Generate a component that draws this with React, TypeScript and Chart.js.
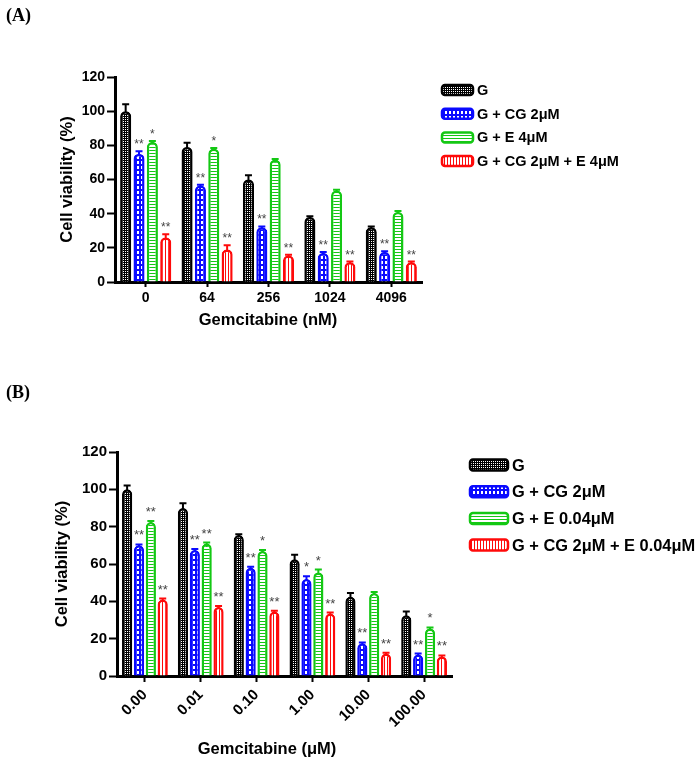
import React, { useEffect, useRef } from "react";
import { Chart, registerables } from "chart.js";
Chart.register(...registerables);

const SANS = "'Liberation Sans', Arial, Helvetica, sans-serif";
const SERIF = "'Liberation Serif', 'Times New Roman', serif";

// ---------------- Panel A data ----------------
const categoriesA = ["0", "64", "256", "1024", "4096"];
const seriesNamesA = ["G", "G + CG 2μM", "G + E 4μM", "G + CG 2μM + E 4μM"];
const gValuesA = [100, 79, 60, 38, 32];
const cgValuesA = [75, 56.5, 32, 17, 17.5];
const eValuesA = [82, 78, 71.5, 53.5, 41];
const cgeValuesA = [26, 19, 15.5, 11.5, 11.5];
const gErrA = [4, 2.5, 2.5, 0.5, 0.5];
const cgErrA = [1.5, 0.5, 0.5, 0.5, 0.5];
const eErrA = [0.5, 0.5, 0.5, 0.5, 0.5];
const cgeErrA = [2, 2.5, 0.5, 0.5, 0.5];
const gStarsA = ["", "", "", "", ""];
const cgStarsA = ["**", "**", "**", "**", "**"];
const eStarsA = ["*", "*", "", "", ""];
const cgeStarsA = ["**", "**", "**", "**", "**"];
const xTitleA = "Gemcitabine (nM)";

// ---------------- Panel B data ----------------
const categoriesB = ["0.00", "0.01", "0.10", "1.00", "10.00", "100.00"];
const seriesNamesB = ["G", "G + CG 2μM", "G + E 0.04μM", "G + CG 2μM + E 0.04μM"];
const gValuesB = [100, 90, 75.5, 62.5, 42.5, 32.5];
const cgValuesB = [70, 67.5, 58, 52, 17.5, 11.5];
const eValuesB = [82.5, 71, 67, 55.5, 44.5, 25.5];
const cgeValuesB = [41, 37, 34.5, 33.5, 12, 10.5];
const gErrB = [2, 2.5, 0.5, 2.5, 2, 2];
const cgErrB = [0.5, 0.5, 0.5, 1.5, 0.5, 0.5];
const eErrB = [0.5, 0.5, 0.5, 1.5, 0.5, 0.5];
const cgeErrB = [0.5, 0.5, 0.5, 0.5, 0.5, 0.5];
const gStarsB = ["", "", "", "", "", ""];
const cgStarsB = ["**", "**", "**", "*", "**", "**"];
const eStarsB = ["**", "**", "*", "*", "", "*"];
const cgeStarsB = ["**", "**", "**", "**", "**", "**"];
const xTitleB = "Gemcitabine (μM)";

const yTitle = "Cell viability (%)";
const yMax = 120;
const yStep = 20;

// ---------------- styles ----------------
const COLORS = ["#000000", "#0a0aff", "#14c814", "#ff0a0a"];

function makePattern(idx: number): CanvasPattern | string {
  const c = document.createElement("canvas");
  const g = c.getContext("2d");
  if (!g) return COLORS[idx];
  const col = COLORS[idx];
  if (idx === 0) {
    c.width = 4; c.height = 4;
    g.fillStyle = col; g.fillRect(0, 0, 4, 4);
    g.fillStyle = "#ffffff";
    g.fillRect(1, 1, 1, 1); g.fillRect(3, 3, 1, 1); g.fillRect(1, 3, 1, 1); g.fillRect(3, 1, 1, 1);
  } else if (idx === 1) {
    c.width = 4; c.height = 5;
    g.fillStyle = col; g.fillRect(0, 0, 4, 5);
    g.fillStyle = "#ffffff"; g.fillRect(1, 1, 2, 3);
  } else if (idx === 2) {
    c.width = 1; c.height = 3;
    g.fillStyle = "#ffffff"; g.fillRect(0, 0, 1, 3);
    g.fillStyle = col; g.fillRect(0, 0, 1, 1);
  } else {
    c.width = 3; c.height = 1;
    g.fillStyle = "#ffffff"; g.fillRect(0, 0, 3, 1);
    g.fillStyle = col; g.fillRect(0, 0, 1, 1);
  }
  const p = g.createPattern(c, "repeat");
  return p || col;
}

type Geo = {
  height: number;
  padTop: number;
  padRight: number;
  yWidth: number;
  xHeight: number;
  tickSize: number;
  rotation: number;
  xTickLen: number;
  xTickPad: number;
  catPct: number;
  barPct: number;
  titleSize: number;
  xTitleX: number;
  xTitleY: number;
  yTitleX: number;
  legendDX: number;
  legendDY: number;
  legendStep: number;
  legendBoxW: number;
  legendBoxH: number;
  legendFont: number;
  starSize: number;
  starGap: number;
  capHalf: number;
};

type PanelProps = {
  categories: string[];
  names: string[];
  values: number[][];
  errors: number[][];
  stars: string[][];
  xTitle: string;
  geo: Geo;
};

function Panel({ categories, names, values, errors, stars, xTitle, geo }: PanelProps) {
  const ref = useRef<HTMLCanvasElement | null>(null);
  useEffect(() => {
    if (!ref.current) return;
    const patterns = COLORS.map((_, i) => makePattern(i));

    const errStars = {
      id: "errStars",
      afterDatasetsDraw(chart: any) {
        const ctx = chart.ctx;
        const ys = chart.scales.y;
        values.forEach((vals, i) => {
          const meta = chart.getDatasetMeta(i);
          meta.data.forEach((el: any, j: number) => {
            const top = ys.getPixelForValue(vals[j] + errors[i][j]);
            ctx.save();
            ctx.strokeStyle = COLORS[i];
            ctx.lineWidth = 2;
            ctx.beginPath();
            ctx.moveTo(el.x, el.y + 1);
            ctx.lineTo(el.x, top);
            ctx.moveTo(el.x - geo.capHalf, top);
            ctx.lineTo(el.x + geo.capHalf, top);
            ctx.stroke();
            const s = stars[i][j];
            if (s) {
              ctx.fillStyle = "#444444";
              ctx.font = `${geo.starSize}px ${SANS}`;
              ctx.textAlign = "center";
              ctx.textBaseline = "alphabetic";
              ctx.fillText(s, el.x, top - geo.starGap);
            }
            ctx.restore();
          });
        });
      },
    };

    const decor = {
      id: "decor",
      afterDraw(chart: any) {
        const ctx = chart.ctx;
        const area = chart.chartArea;
        ctx.save();
        // legend
        names.forEach((n, i) => {
          const cy = area.top + geo.legendDY + i * geo.legendStep;
          const bx = area.right + geo.legendDX;
          const by = cy - geo.legendBoxH / 2;
          ctx.beginPath();
          ctx.roundRect(bx, by, geo.legendBoxW, geo.legendBoxH, 3);
          ctx.fillStyle = patterns[i];
          ctx.fill();
          ctx.lineWidth = 2.5;
          ctx.strokeStyle = COLORS[i];
          ctx.stroke();
          ctx.fillStyle = "#000";
          ctx.font = `bold ${geo.legendFont}px ${SANS}`;
          ctx.textAlign = "left";
          ctx.textBaseline = "middle";
          ctx.fillText(n, bx + geo.legendBoxW + 4, cy + 1);
        });
        // axis titles
        ctx.fillStyle = "#000";
        ctx.font = `bold ${geo.titleSize}px ${SANS}`;
        ctx.textAlign = "center";
        ctx.textBaseline = "middle";
        ctx.fillText(xTitle, geo.xTitleX, geo.xTitleY);
        ctx.translate(geo.yTitleX, (area.top + area.bottom) / 2);
        ctx.rotate(-Math.PI / 2);
        ctx.fillText(yTitle, 0, 0);
        ctx.restore();
      },
    };

    const tickFont = { family: SANS, size: geo.tickSize, weight: "bold" as const };
    const chart = new Chart(ref.current, {
      type: "bar",
      data: {
        labels: categories,
        datasets: values.map((v, i) => ({
          label: names[i],
          data: v,
          backgroundColor: patterns[i] as any,
          borderColor: COLORS[i],
          borderWidth: 2.5,
          borderRadius: 5,
          borderSkipped: "start" as const,
          categoryPercentage: geo.catPct,
          barPercentage: geo.barPct,
        })),
      },
      options: {
        animation: false,
        responsive: false,
        layout: { padding: { top: geo.padTop, right: geo.padRight, left: 0, bottom: 0 } },
        plugins: { legend: { display: false }, tooltip: { enabled: false } },
        scales: {
          x: {
            grid: {
              display: true,
              drawOnChartArea: false,
              drawTicks: true,
              tickLength: geo.xTickLen,
              tickWidth: 2,
              tickColor: "#000",
              offset: false,
            },
            border: { display: true, color: "#000", width: 3 },
            ticks: {
              color: "#000",
              font: tickFont,
              padding: geo.xTickPad,
              minRotation: geo.rotation,
              maxRotation: geo.rotation,
              autoSkip: false,
            },
            afterFit: (s: any) => {
              s.height = geo.xHeight;
            },
          },
          y: {
            min: 0,
            max: yMax,
            grid: {
              display: true,
              drawOnChartArea: false,
              drawTicks: true,
              tickLength: 8,
              tickWidth: 2,
              tickColor: "#000",
            },
            border: { display: true, color: "#000", width: 3 },
            ticks: { stepSize: yStep, color: "#000", font: tickFont, padding: 2 },
            afterFit: (s: any) => {
              s.width = geo.yWidth;
            },
          },
        },
      },
      plugins: [errStars, decor],
    });
    return () => chart.destroy();
  }, []);
  return <canvas ref={ref} width={700} height={geo.height} style={{ display: "block" }} />;
}

const geoA: Geo = {
  height: 340,
  padTop: 77,
  padRight: 278,
  yWidth: 115,
  xHeight: 58,
  tickSize: 14,
  rotation: 0,
  xTickLen: 5,
  xTickPad: 3,
  catPct: 0.87,
  barPct: 0.83,
  titleSize: 16.5,
  xTitleX: 268,
  xTitleY: 320,
  yTitleX: 67,
  legendDX: 20,
  legendDY: 13,
  legendStep: 23.7,
  legendBoxW: 31,
  legendBoxH: 10,
  legendFont: 14.5,
  starSize: 12,
  starGap: 3,
  capHalf: 3.5,
};

const geoB: Geo = {
  height: 402,
  padTop: 92,
  padRight: 248,
  yWidth: 117,
  xHeight: 86,
  tickSize: 15,
  rotation: 45,
  xTickLen: 6,
  xTickPad: 4,
  catPct: 0.85,
  barPct: 0.86,
  titleSize: 16.5,
  xTitleX: 267,
  xTitleY: 389,
  yTitleX: 62,
  legendDX: 18,
  legendDY: 13,
  legendStep: 26.7,
  legendBoxW: 38,
  legendBoxH: 11,
  legendFont: 16.4,
  starSize: 13,
  starGap: 5,
  capHalf: 3.5,
};

export default function App() {
  return (
    <div style={{ position: "absolute", left: 0, top: 0, width: 700, height: 762, background: "#fff", overflow: "hidden" }}>
      <div style={{ position: "absolute", left: 0, top: 0 }}>
        <Panel
          categories={categoriesA}
          names={seriesNamesA}
          values={[gValuesA, cgValuesA, eValuesA, cgeValuesA]}
          errors={[gErrA, cgErrA, eErrA, cgeErrA]}
          stars={[gStarsA, cgStarsA, eStarsA, cgeStarsA]}
          xTitle={xTitleA}
          geo={geoA}
        />
      </div>
      <div style={{ position: "absolute", left: 0, top: 360 }}>
        <Panel
          categories={categoriesB}
          names={seriesNamesB}
          values={[gValuesB, cgValuesB, eValuesB, cgeValuesB]}
          errors={[gErrB, cgErrB, eErrB, cgeErrB]}
          stars={[gStarsB, cgStarsB, eStarsB, cgeStarsB]}
          xTitle={xTitleB}
          geo={geoB}
        />
      </div>
      <div style={{ position: "absolute", left: 6, top: 5, font: `bold 18px ${SERIF}`, lineHeight: "20px" }}>(A)</div>
      <div style={{ position: "absolute", left: 6, top: 382, font: `bold 18px ${SERIF}`, lineHeight: "20px" }}>(B)</div>
    </div>
  );
}
